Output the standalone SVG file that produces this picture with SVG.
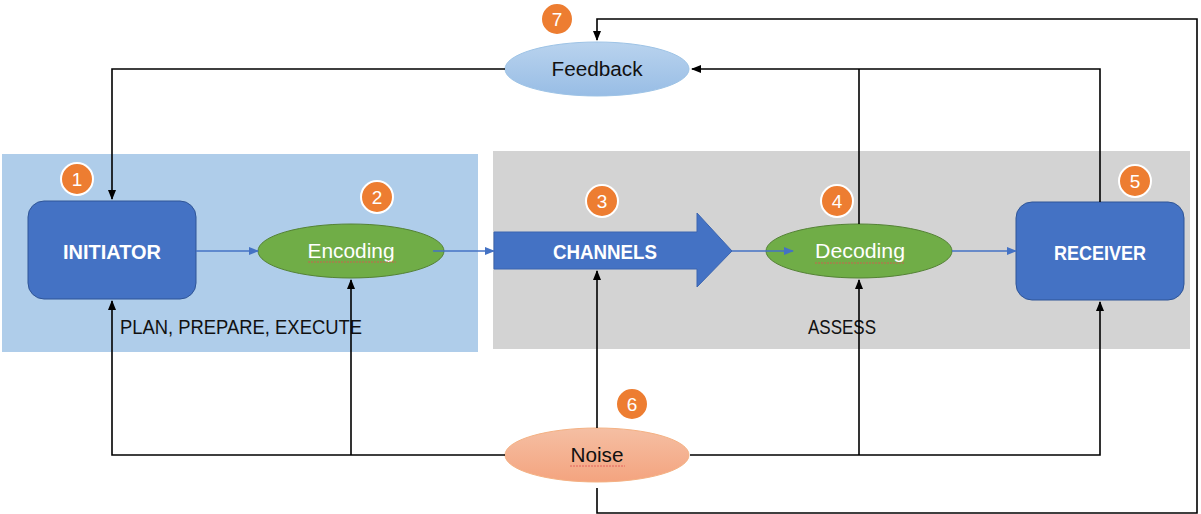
<svg xmlns="http://www.w3.org/2000/svg" width="1201" height="514" viewBox="0 0 1201 514">
<style>
.lbl{font-family:"Liberation Sans",Arial,sans-serif}
.bold{font-weight:bold;fill:#fff;font-size:21px}
.wt{fill:#fff;font-size:21px}
.dk{fill:#111;font-size:20px}
.num{fill:#fff;font-size:19px;font-family:"Liberation Sans",Arial,sans-serif;text-anchor:middle}
.badge{fill:#ED7D31;stroke:#fff;stroke-width:2}
.conn{fill:none;stroke:#000;stroke-width:1.6}
.blue{fill:none;stroke:#4472C4;stroke-width:1.6}
.box{fill:#4472C4;stroke:#2F5597;stroke-width:1}
.green{fill:#70AD47;stroke:#548235;stroke-width:1}
.squig{fill:none;stroke:#E05050;stroke-width:0.8;stroke-dasharray:2 1}
</style>
<defs>
<marker id="ak" markerWidth="10" markerHeight="8" refX="9" refY="4" orient="auto" markerUnits="userSpaceOnUse"><path d="M0,0 L10,4 L0,8 z" fill="#000"/></marker>
<marker id="ab" markerWidth="10" markerHeight="8" refX="9" refY="4" orient="auto" markerUnits="userSpaceOnUse"><path d="M0,0 L10,4 L0,8 z" fill="#4472C4"/></marker>
<linearGradient id="gFb" x1="0" y1="0" x2="0" y2="1"><stop offset="0" stop-color="#B9D3EE"/><stop offset="1" stop-color="#98BDE5"/></linearGradient>
<linearGradient id="gNs" x1="0" y1="0" x2="0" y2="1"><stop offset="0" stop-color="#F5BFA3"/><stop offset="1" stop-color="#F4A47F"/></linearGradient>
</defs>

<g id="panels">
<rect x="2" y="154" width="476" height="198" fill="#AFCDEA"/>
<rect x="493" y="151" width="697" height="198" fill="#D3D3D3"/>
<text class="lbl dk" x="120" y="334" textLength="242" lengthAdjust="spacingAndGlyphs">PLAN, PREPARE, EXECUTE</text>
<text class="lbl dk" x="808" y="334" textLength="68" lengthAdjust="spacingAndGlyphs">ASSESS</text>
</g>

<g id="initiator">
<rect class="box" x="28" y="201" width="168" height="98" rx="16"/>
<text class="lbl bold" x="112" y="259" text-anchor="middle" textLength="98" lengthAdjust="spacingAndGlyphs">INITIATOR</text>
<circle class="badge" cx="77" cy="179" r="16"/><text class="num" x="77" y="186">1</text>
</g>

<g id="encoding">
<ellipse class="green" cx="351" cy="251" rx="93" ry="27"/>
<text class="lbl wt" x="351" y="258" text-anchor="middle" textLength="87" lengthAdjust="spacingAndGlyphs">Encoding</text>
<path class="squig" d="M308,262 H396"/>
<circle class="badge" cx="377" cy="197" r="16"/><text class="num" x="377" y="204">2</text>
</g>

<g id="channels">
<path d="M494,232 H697 V213 L732,251 L697,287 V269 H494 Z" fill="#4472C4" stroke="#3A64B0" stroke-width="1"/>
<text class="lbl bold" x="605" y="259" text-anchor="middle" textLength="104" lengthAdjust="spacingAndGlyphs">CHANNELS</text>
<circle class="badge" cx="602" cy="201" r="16"/><text class="num" x="602" y="208">3</text>
</g>

<g id="decoding">
<ellipse class="green" cx="859" cy="251" rx="93" ry="27"/>
<text class="lbl wt" x="860" y="258" text-anchor="middle" textLength="90" lengthAdjust="spacingAndGlyphs">Decoding</text>
<path class="squig" d="M815,263 H905"/>
<circle class="badge" cx="837" cy="201" r="16"/><text class="num" x="837" y="208">4</text>
</g>

<g id="receiver">
<rect class="box" x="1016" y="202" width="168" height="98" rx="16"/>
<text class="lbl bold" x="1100" y="260" text-anchor="middle" textLength="92" lengthAdjust="spacingAndGlyphs">RECEIVER</text>
<circle class="badge" cx="1135" cy="181" r="16"/><text class="num" x="1135" y="188">5</text>
</g>

<g id="noise">
<ellipse cx="597" cy="455" rx="92" ry="27" fill="url(#gNs)" stroke="#F4B183" stroke-width="1"/>
<text class="lbl dk" x="597" y="462" text-anchor="middle" textLength="53" lengthAdjust="spacingAndGlyphs">Noise</text>
<path class="squig" d="M570,466 H625"/>
<circle class="badge" cx="632" cy="404" r="16"/><text class="num" x="632" y="411">6</text>
</g>

<g id="feedback">
<ellipse cx="597" cy="69" rx="92" ry="27" fill="url(#gFb)" stroke="#9DC3E6" stroke-width="1"/>
<text class="lbl dk" x="597" y="76" text-anchor="middle" textLength="91" lengthAdjust="spacingAndGlyphs">Feedback</text>
<circle class="badge" cx="557" cy="19" r="16"/><text class="num" x="557" y="26">7</text>
</g>

<g id="connectors">
<path class="conn" d="M505,69 H112 V199" marker-end="url(#ak)"/>
<path class="conn" d="M859,224 V69"/>
<path class="conn" d="M1100,202 V69 H692" marker-end="url(#ak)"/>
<path class="conn" d="M597,488 V513 H1197 V19 H597 V40" marker-end="url(#ak)"/>
<path class="conn" d="M597,428 V271" marker-end="url(#ak)"/>
<path class="conn" d="M505,455 H112 V301" marker-end="url(#ak)"/>
<path class="conn" d="M351,455 V280" marker-end="url(#ak)"/>
<path class="conn" d="M690,455 H1100 V302" marker-end="url(#ak)"/>
<path class="conn" d="M859,455 V280" marker-end="url(#ak)"/>
<path class="blue" d="M196,251 H258" marker-end="url(#ab)"/>
<path class="blue" d="M433,251 H494" marker-end="url(#ab)"/>
<path class="blue" d="M732,251 H793" marker-end="url(#ab)"/>
<path class="blue" d="M952,251 H1016" marker-end="url(#ab)"/>
</g>
</svg>
